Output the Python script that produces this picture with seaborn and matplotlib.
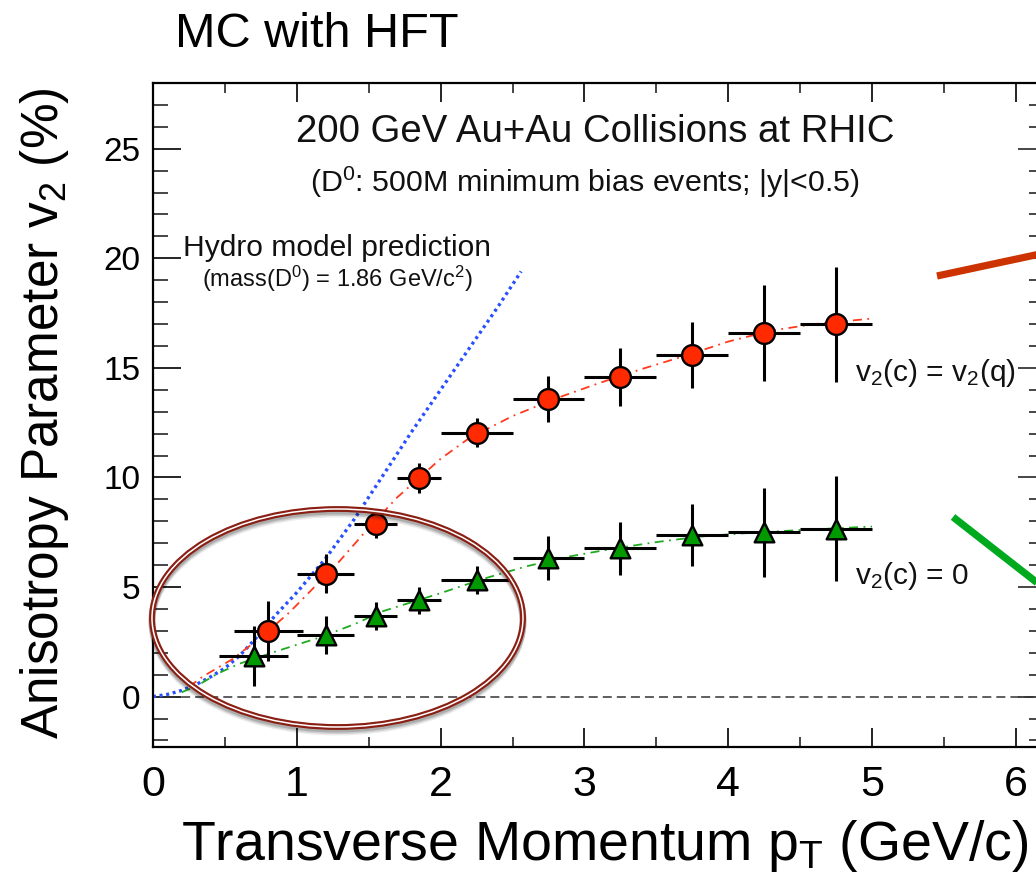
import matplotlib
matplotlib.use("Agg")
import matplotlib.pyplot as plt
import seaborn as sns
from matplotlib.patches import Ellipse
from matplotlib.lines import Line2D
from matplotlib.ticker import MultipleLocator

# D0 v2 points assuming charm flows like light quarks: v2(c) = v2(q)
pt_flow = [0.80, 1.20, 1.55, 1.85, 2.25, 2.75, 3.25, 3.75, 4.25, 4.75]
v2_flow = [2.99, 5.61, 7.89, 9.99, 12.05, 13.57, 14.57, 15.58, 16.59, 16.99]
v2_flow_err = [1.37, 0.88, 0.65, 0.68, 0.66, 1.05, 1.33, 1.52, 2.17, 2.62]

# D0 v2 points assuming no charm flow: v2(c) = 0
pt_noflow = [0.70, 1.20, 1.55, 1.85, 2.25, 2.75, 3.25, 3.75, 4.25, 4.75]
v2_noflow = [1.84, 2.83, 3.67, 4.40, 5.32, 6.34, 6.76, 7.36, 7.51, 7.66]
v2_noflow_err = [1.37, 0.87, 0.65, 0.61, 0.64, 1.00, 1.23, 1.42, 2.03, 2.40]

# half widths of the pT bins
pt_halfwidth = [0.24, 0.20, 0.15, 0.15, 0.25, 0.25, 0.25, 0.25, 0.25, 0.25]

# expectation curves
curve_flow_pt = [0.25, 0.35, 0.55, 0.75, 0.95, 1.10, 1.30, 1.50, 1.70, 2.00,
                 2.20, 2.50, 2.80, 3.10, 3.40, 3.70, 4.00, 4.30, 4.60, 5.00]
curve_flow_v2 = [0.45, 0.93, 1.70, 2.70, 3.85, 4.85, 6.20, 7.70, 9.10, 10.85,
                 11.80, 12.80, 13.60, 14.30, 14.95, 15.55, 16.20, 16.70, 17.00, 17.25]
curve_noflow_pt = [0.20, 0.30, 0.45, 0.60, 0.85, 1.15, 1.40, 1.60, 2.00, 2.30,
                   2.60, 2.90, 3.20, 3.50, 3.80, 4.10, 4.50, 5.00]
curve_noflow_v2 = [0.20, 0.47, 1.05, 1.50, 2.05, 2.68, 3.30, 3.90, 4.72, 5.38,
                   5.95, 6.40, 6.75, 7.05, 7.30, 7.45, 7.60, 7.76]
hydro_pt = [0.00, 0.10, 0.20, 0.30, 0.40, 0.50, 0.60, 0.70, 0.85, 1.00,
            1.20, 1.40, 1.60, 1.80, 2.00, 2.20, 2.40, 2.56]
hydro_v2 = [0.00, 0.10, 0.28, 0.55, 0.90, 1.30, 1.85, 2.55, 3.70, 4.75,
            6.30, 8.10, 10.10, 12.10, 14.00, 15.90, 17.80, 19.40]

x_ticks = [0, 1, 2, 3, 4, 5, 6]
y_ticks = [0, 5, 10, 15, 20, 25]

sns.set_theme(style="ticks")
plt.rcParams["font.family"] = ["Liberation Sans", "DejaVu Sans"]
plt.rcParams["mathtext.fontset"] = "custom"
plt.rcParams["mathtext.rm"] = "Liberation Sans"
plt.rcParams["mathtext.it"] = "Liberation Sans"
plt.rcParams["mathtext.bf"] = "Liberation Sans:bold"

W, H = 1036, 884
fig = plt.figure(figsize=(W / 100, H / 100), dpi=100)
fig.patch.set_facecolor("white")

x_max = 6.15
ax_left, ax_top, ax_bottom = 153, 83, 747
px_per_unit = 143.8
ax = fig.add_axes([ax_left / W, 1 - ax_bottom / H,
                   x_max * px_per_unit / W, (ax_bottom - ax_top) / H])
ax.set_facecolor("white")
ax.set_xlim(0, x_max)
ax.set_ylim(-2.3, 28.0)

for sp in ax.spines.values():
    sp.set_linewidth(1.6)
    sp.set_color("black")

ax.xaxis.set_major_locator(MultipleLocator(1))
ax.xaxis.set_minor_locator(MultipleLocator(0.5))
ax.yaxis.set_major_locator(MultipleLocator(5))
ax.yaxis.set_minor_locator(MultipleLocator(1))
ax.set_xticks(x_ticks)
ax.set_yticks(y_ticks)
ax.set_xticklabels([str(v) for v in x_ticks])
ax.set_yticklabels([str(v) for v in y_ticks])

ax.tick_params(axis="x", which="major", direction="in", length=14, width=1.2,
               top=True, bottom=True, labelsize=31, pad=13, colors="black")
ax.tick_params(axis="x", which="minor", direction="in", length=7.5, width=1.2,
               top=True, bottom=True)
ax.tick_params(axis="y", which="major", direction="in", length=20, width=1.2,
               left=True, right=False, labelsize=24, pad=9, colors="black")
ax.tick_params(axis="y", which="minor", direction="in", length=11, width=1.2,
               left=True, right=False)

# shorter ticks on the right-hand edge
sec = ax.secondary_yaxis("right")
sec.yaxis.set_major_locator(MultipleLocator(5))
sec.yaxis.set_minor_locator(MultipleLocator(1))
sec.tick_params(axis="y", which="major", direction="in", length=14, width=1.2,
                labelright=False)
sec.tick_params(axis="y", which="minor", direction="in", length=6, width=1.2)

# zero reference line
ax.axhline(0, color="#333333", lw=1.1, ls=(0, (5.9, 3.3)), zorder=1)

# model curves
sns.lineplot(x=hydro_pt, y=hydro_v2, ax=ax, color="#2a4fff", lw=2.4,
             sort=False, estimator=None, zorder=2)
ax.lines[-1].set_linestyle((0, (0.9, 1.1)))
sns.lineplot(x=curve_flow_pt, y=curve_flow_v2, ax=ax, color="#ff3a1e", lw=1.3,
             sort=False, estimator=None, zorder=2)
ax.lines[-1].set_linestyle((0, (5, 3, 1, 3)))
sns.lineplot(x=curve_noflow_pt, y=curve_noflow_v2, ax=ax, color="#1faa1f", lw=1.3,
             sort=False, estimator=None, zorder=2)
ax.lines[-1].set_linestyle((0, (5, 3, 1, 3)))

# error bars
ax.errorbar(pt_flow, v2_flow, xerr=pt_halfwidth, yerr=v2_flow_err, fmt="none",
            ecolor="black", elinewidth=2.2, capsize=0, zorder=3)
ax.errorbar(pt_noflow, v2_noflow, xerr=pt_halfwidth, yerr=v2_noflow_err, fmt="none",
            ecolor="black", elinewidth=2.2, capsize=0, zorder=3)

# markers
sns.scatterplot(x=pt_flow, y=v2_flow, ax=ax, marker="o", s=225, color="#ff2a00",
                edgecolor="black", linewidth=1.7, zorder=4)
sns.scatterplot(x=pt_noflow, y=v2_noflow, ax=ax, marker="^", s=200, color="#009a00",
                edgecolor="black", linewidth=1.7, zorder=4)

ax.set_xlabel("")
ax.set_ylabel("")

# texts inside the frame
ax.text(3.074, 25.32, "200 GeV Au+Au Collisions at RHIC", ha="center",
        va="baseline", fontsize=27.6, color="#111111")
ax.text(3.004, 23.45, r"(D$^{0}$: 500M minimum bias events; |y|<0.5)", ha="center",
        va="center", fontsize=21.9, color="#111111")
ax.text(0.209, 20.11, "Hydro model prediction", ha="left", va="baseline",
        fontsize=21.6, color="#111111")
ax.text(0.34, 18.69, r"(mass(D$^{0}$) = 1.86 GeV/c$^{2}$)", ha="left",
        va="baseline", fontsize=17, color="#111111")
ax.text(4.882, 14.4, r"v$_{2}$(c) = v$_{2}$(q)", ha="left", va="baseline",
        fontsize=21.5, color="#111111")
ax.text(4.882, 5.16, r"v$_{2}$(c) = 0", ha="left", va="baseline",
        fontsize=21.5, color="#111111")

# axis titles and heading
fig.text(175 / W, 1 - 47 / H, "MC with HFT", ha="left", va="baseline",
         fontsize=35, color="black")
fig.text(45 / W, 1 - 413 / H, r"Anisotropy Parameter v$_{2}$ (%)", rotation=90,
         ha="center", va="center", fontsize=37, color="black")
fig.text(605 / W, 1 - 860 / H, r"Transverse Momentum p$_{T}$ (GeV/c)", ha="center",
         va="baseline", fontsize=40, color="black")

# highlight ring around the low-pT points, with a soft shadow
ring_c = (337.5 / W, 1 - 618 / H)
ring_w, ring_h = 371 / W, 218 / H
for off, a in [(5, 0.08), (3.5, 0.12), (2, 0.16)]:
    fig.patches.append(Ellipse((ring_c[0], ring_c[1] - off / H), ring_w, ring_h,
                               transform=fig.transFigure, fill=False,
                               edgecolor="black", lw=5, alpha=a, zorder=5))
fig.patches.append(Ellipse(ring_c, ring_w, ring_h, transform=fig.transFigure,
                           fill=False, edgecolor="#8a1f14", lw=4.2, zorder=6))
fig.patches.append(Ellipse(ring_c, ring_w, ring_h, transform=fig.transFigure,
                           fill=False, edgecolor="white", lw=1.1, zorder=7))

# pointer strokes at the right edge
fig.lines.append(Line2D([937 / W, 1040 / W], [1 - 276 / H, 1 - 254 / H],
                        transform=fig.transFigure, color="#cc3300", lw=5.2,
                        solid_capstyle="butt"))
fig.lines.append(Line2D([953 / W, 1040 / W], [1 - 517 / H, 1 - 585 / H],
                        transform=fig.transFigure, color="#00aa1e", lw=5.2,
                        solid_capstyle="butt"))

fig.savefig("out.png", dpi=100, facecolor="white")
